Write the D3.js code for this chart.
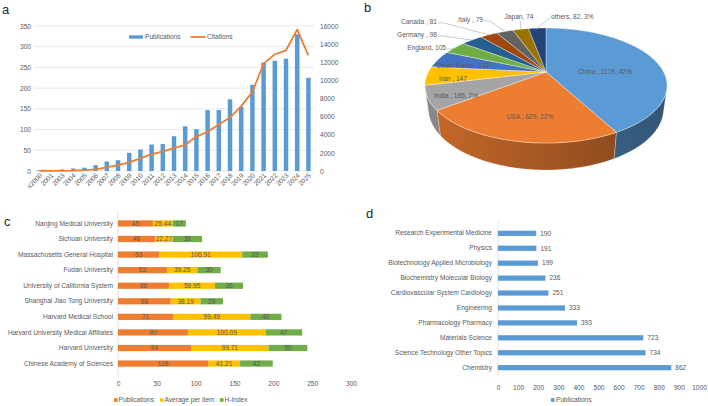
<!DOCTYPE html>
<html>
<head>
<meta charset="utf-8">
<title>Publications overview</title>
<script src="https://cdn.jsdelivr.net/npm/d3@7"></script>
<style>
  html, body { margin: 0; padding: 0; background: #fff; }
  svg { display: block; font-family: "Liberation Sans", Arial, sans-serif; }
  .tick text, .lbl { fill: #595959; }
  .grid line { stroke: #d9d9d9; stroke-width: 0.6; }
  .panel { font-size: 13px; fill: #262626; }
</style>
</head>
<body>
<svg id="chart" width="708" height="406"></svg>
<script>
// a: publications and citations per year
var years = ["≤2000","2001","2003","2004","2005","2006","2007","2008","2009","2010","2011","2012","2013",
             "2014","2015","2016","2017","2018","2019","2020","2021","2022","2023","2024","2025"];
var yearPubs = [2, 1, 4, 6, 8, 14, 23, 26, 44, 52, 64, 65, 84, 108, 101, 147, 147, 173, 155, 208, 262, 266, 271, 330, 225];
var yearCites = [30, 10, 20, 40, 100, 180, 400, 650, 950, 1400, 1870, 2130, 2550, 2860, 3800, 4330, 5140, 5900,
                 7160, 8730, 11850, 12880, 13320, 15600, 12770];
var pubTicks = [0, 50, 100, 150, 200, 250, 300, 350];
var citeTicks = [0, 2000, 4000, 6000, 8000, 10000, 12000, 14000, 16000];

// b: countries
var countries = ["China ", "USA ", "India ", "Iran ", "South Korea ", "England", "Germany ", "Canada ", "Italy ", "Japan", "others"];
var countryPubs = [1178, 629, 186, 147, 137, 105, 98, 81, 79, 74, 82];
var countryPct = [true, true, true, false, false, false, false, false, false, false, true];
var countryColors = ["#5b9bd5", "#ed7d31", "#a5a5a5", "#ffc000", "#4472c4", "#70ad47", "#255e91", "#9e480e", "#636363", "#997300", "#264478"];

// c: institutions
var institutions = ["Nanjing Medical University", "Sichuan University", "Massachusetts General Hospital", "Fudan University",
  "University of California System", "Shanghai Jiao Tong University", "Harvard Medical School",
  "Harvard University Medical Affiliates", "Harvard University", "Chinese Academy of Sciences"];
var instPubs = [45, 48, 53, 63, 66, 68, 71, 90, 94, 116];
var instAvg = [25.44, 22.27, 106.91, 39.25, 58.95, 38.19, 99.49, 100.09, 99.71, 41.21];
var instH = [17, 38, 33, 30, 36, 29, 40, 47, 50, 42];
var instTicks = [0, 50, 100, 150, 200, 250, 300];

// d: research areas
var fields = ["Research Experimental Medicine", "Physics", "Biotechnology Applied Microbiology", "Biochemistry Molecular Biology",
  "Cardiovascular System Cardiology", "Engineering", "Pharmacology Pharmacy", "Materials Science",
  "Science Technology Other Topics", "Chemistry"];
var fieldPubs = [190, 191, 199, 236, 251, 333, 393, 723, 734, 862];
var fieldTicks = [0, 100, 200, 300, 400, 500, 600, 700, 800, 900, 1000];

var blue = "#5b9bd5", orange = "#ed7d31", gold = "#ffc000", green = "#70ad47";
var fs = 6.6;
var plain = d3.format("d");

var svg = d3.select("#chart");
var defs = svg.append("defs");

function plainAxis(g) {
  g.select(".domain").remove();
  g.selectAll(".tick line").remove();
  g.selectAll(".tick text").attr("font-size", fs).attr("font-family", null);
}

// ---------------- a ----------------
var ga = svg.append("g");
ga.append("text").attr("class", "panel").attr("x", 2).attr("y", 14).text("a");

var xa = d3.scaleBand().domain(years).range([34, 314]).paddingInner(0.6).paddingOuter(0.3);
var ya = d3.scaleLinear().domain([0, 350]).range([171, 26]);
var yr = d3.scaleLinear().domain([0, 16000]).range([171, 26]);

ga.append("g").attr("class", "grid").selectAll("line").data(pubTicks).join("line")
  .attr("x1", 34).attr("x2", 314).attr("y1", function(d) { return ya(d); }).attr("y2", function(d) { return ya(d); });

ga.append("g").attr("transform", "translate(34,0)")
  .call(d3.axisLeft(ya).tickValues(pubTicks).tickFormat(plain).tickSize(0).tickPadding(3)).call(plainAxis);
ga.append("g").attr("transform", "translate(314,0)")
  .call(d3.axisRight(yr).tickValues(citeTicks).tickFormat(plain).tickSize(0).tickPadding(6)).call(plainAxis);

ga.selectAll("rect.bar").data(yearPubs).join("rect").attr("class", "bar")
  .attr("x", function(d, i) { return xa(years[i]); })
  .attr("width", xa.bandwidth())
  .attr("y", function(d) { return ya(d); })
  .attr("height", function(d) { return ya(0) - ya(d); })
  .attr("fill", blue);

var citeLine = d3.line()
  .x(function(d, i) { return xa(years[i]) + xa.bandwidth() / 2; })
  .y(function(d) { return yr(d); });
ga.append("path").datum(yearCites).attr("d", citeLine)
  .attr("fill", "none").attr("stroke", orange).attr("stroke-width", 1.8).attr("stroke-linejoin", "round");

ga.selectAll("text.yr").data(years).join("text").attr("class", "yr lbl")
  .attr("font-size", fs).attr("text-anchor", "end")
  .attr("transform", function(d) { return "translate(" + (xa(d) + xa.bandwidth() / 2 + 3) + ",176) rotate(-45)"; })
  .text(function(d) { return d; });

// legend
ga.append("rect").attr("x", 129).attr("y", 35.3).attr("width", 14).attr("height", 3.4).attr("fill", blue);
ga.append("text").attr("class", "lbl").attr("font-size", fs).attr("x", 145).attr("y", 37).attr("dy", "0.35em").text("Publications");
ga.append("line").attr("x1", 190.5).attr("x2", 205.5).attr("y1", 37).attr("y2", 37).attr("stroke", orange).attr("stroke-width", 1.8);
ga.append("text").attr("class", "lbl").attr("font-size", fs).attr("x", 207).attr("y", 37).attr("dy", "0.35em").text("Citations");

// ---------------- b ----------------
var gb = svg.append("g");
gb.append("text").attr("class", "panel").attr("x", 364).attr("y", 12).attr("font-size", 14).text("b");

// perspective projection of a tilted disc
var P = { cx: 546, cy: 72, f: 444.1, D: 3.776, sa: 0.462, ca: 0.887, T: 0.2235 };
function proj(theta, r, h) {
  var X = r * Math.sin(theta), Z = r * Math.cos(theta), Y = h;
  var depth = P.D + Z * P.ca - Y * P.sa;
  return [P.cx + P.f * X / depth, P.cy - P.f * (Z * P.sa + Y * P.ca) / depth];
}
function arcPts(a0, a1, h) {
  var n = Math.max(2, Math.ceil(Math.abs(a1 - a0) / 0.015));
  return d3.range(n + 1).map(function(k) { return proj(a0 + (a1 - a0) * k / n, 1, h); });
}

var pieData = d3.pie().sort(null).value(function(d) { return d; })(countryPubs);
var total = d3.sum(countryPubs);
var silA = Math.acos(-1 / (P.D * P.ca)), silB = 2 * Math.PI - silA;

// side walls
pieData.forEach(function(s, i) {
  var a0 = Math.max(s.startAngle, silA), a1 = Math.min(s.endAngle, silB);
  if (a1 <= a0) return;
  var c = d3.color(countryColors[i]);
  var gid = "side" + i;
  var grad = defs.append("linearGradient").attr("id", gid).attr("gradientUnits", "userSpaceOnUse")
    .attr("x1", 425).attr("x2", 668).attr("y1", 0).attr("y2", 0);
  grad.append("stop").attr("offset", 0).attr("stop-color", c.darker(0.5));
  grad.append("stop").attr("offset", 1).attr("stop-color", c.darker(1.7));
  var pts = arcPts(a0, a1, 0).concat(arcPts(a1, a0, -P.T));
  gb.append("path").attr("d", "M" + pts.join("L") + "Z")
    .attr("fill", "url(#" + gid + ")").attr("stroke", "#fff").attr("stroke-opacity", 0.5).attr("stroke-width", 0.5);
});

// top faces
pieData.forEach(function(s, i) {
  var pts = [proj(0, 0, 0)].concat(arcPts(s.startAngle, s.endAngle, 0));
  gb.append("path").attr("d", "M" + pts.join("L") + "Z")
    .attr("fill", countryColors[i]).attr("stroke", "#fff").attr("stroke-opacity", 0.7).attr("stroke-width", 0.5);
});

// labels: [x, y, anchor, leader]
var pieLabelPos = [
  [605, 72, "middle", 0], [530, 117, "middle", 0], [456, 96, "middle", 0], [453, 79, "middle", 0], [463, 66, "middle", 0],
  [446, 48, "end", 1], [437, 35, "end", 1], [437, 22, "end", 1], [483, 20, "end", 1], [519, 17, "middle", 2], [551, 17, "start", 3]
];
pieData.forEach(function(s, i) {
  var lp = pieLabelPos[i];
  var txt = countries[i] + ", " + countryPubs[i] + (countryPct[i] ? ", " + Math.round(100 * countryPubs[i] / total) + "%" : "");
  gb.append("text").attr("class", "lbl").attr("font-size", fs).attr("x", lp[0]).attr("y", lp[1]).attr("dy", "0.35em")
    .attr("text-anchor", lp[2]).attr("fill", lp[3] ? "#595959" : "#404040").text(txt);
  if (!lp[3]) return;
  var e = proj((s.startAngle + s.endAngle) / 2, 1, 0);
  var pts;
  if (lp[3] === 1) pts = [[lp[0] + 1, lp[1] + 1], [lp[0] + 7, lp[1] + 1], e];
  else if (lp[3] === 2) pts = [[e[0], lp[1] + 4], e];
  else pts = [[lp[0] - 1, lp[1] + 1], e];
  gb.append("path").attr("d", "M" + pts.join("L")).attr("fill", "none").attr("stroke", "#a6a6a6").attr("stroke-width", 0.6);
});

// ---------------- c ----------------
var gc = svg.append("g");
gc.append("text").attr("class", "panel").attr("x", 4).attr("y", 226).attr("font-size", 12).text("c");

var xcS = d3.scaleLinear().domain([0, 300]).range([118, 351]);
var ycS = d3.scaleBand().domain(institutions).range([211, 376]).padding(0.6);
var instRows = institutions.map(function(n, i) { return { name: n, pub: instPubs[i], avg: instAvg[i], h: instH[i] }; });
var keys = ["pub", "avg", "h"], keyColors = [orange, gold, green], keyNames = ["Publications", "Average per item", "H-Index"];
var stacked = d3.stack().keys(keys)(instRows);

gc.append("line").attr("x1", 118).attr("x2", 118).attr("y1", 211).attr("y2", 376).attr("stroke", "#d9d9d9").attr("stroke-width", 0.8);

stacked.forEach(function(layer, k) {
  var g = gc.append("g");
  g.selectAll("rect").data(layer).join("rect")
    .attr("x", function(d) { return xcS(d[0]); })
    .attr("width", function(d) { return xcS(d[1]) - xcS(d[0]); })
    .attr("y", function(d) { return ycS(d.data.name); })
    .attr("height", ycS.bandwidth())
    .attr("fill", keyColors[k]);
  g.selectAll("text").data(layer).join("text").attr("class", "lbl")
    .attr("font-size", fs).attr("text-anchor", "middle").attr("fill", "#404040")
    .attr("x", function(d) { return (xcS(d[0]) + xcS(d[1])) / 2; })
    .attr("y", function(d) { return ycS(d.data.name) + ycS.bandwidth() / 2; })
    .attr("dy", "0.35em")
    .text(function(d) { return d.data[keys[k]]; });
});

gc.append("g").attr("transform", "translate(113,0)")
  .call(d3.axisLeft(ycS).tickSize(0).tickPadding(0)).call(plainAxis);
gc.append("g").attr("transform", "translate(0,377)")
  .call(d3.axisBottom(xcS).tickValues(instTicks).tickFormat(plain).tickSize(0).tickPadding(4)).call(plainAxis);

var legC = gc.selectAll("g.leg").data(keyNames).join("g").attr("class", "leg")
  .attr("transform", function(d, i) { return "translate(" + [114, 160, 220][i] + ",400)"; });
legC.append("rect").attr("x", 0).attr("y", -1.8).attr("width", 3.6).attr("height", 3.6).attr("fill", function(d, i) { return keyColors[i]; });
legC.append("text").attr("class", "lbl").attr("font-size", fs).attr("x", 4.5).attr("dy", "0.35em").text(function(d) { return d; });

// ---------------- d ----------------
var gd = svg.append("g");
gd.append("text").attr("class", "panel").attr("x", 366).attr("y", 218).attr("font-size", 12).text("d");

var xdS = d3.scaleLinear().domain([0, 1000]).range([498, 699]);
var ydS = d3.scaleBand().domain(fields).range([221, 380]).padding(0.65);

gd.append("line").attr("x1", 498).attr("x2", 498).attr("y1", 221).attr("y2", 377).attr("stroke", "#d9d9d9").attr("stroke-width", 0.8);

gd.selectAll("rect").data(fieldPubs).join("rect")
  .attr("x", xdS(0))
  .attr("width", function(d) { return xdS(d) - xdS(0); })
  .attr("y", function(d, i) { return ydS(fields[i]); })
  .attr("height", ydS.bandwidth())
  .attr("fill", blue);
gd.selectAll("text.val").data(fieldPubs).join("text").attr("class", "val lbl")
  .attr("font-size", fs)
  .attr("x", function(d) { return xdS(d) + 4; })
  .attr("y", function(d, i) { return ydS(fields[i]) + ydS.bandwidth() / 2; })
  .attr("dy", "0.35em")
  .text(function(d) { return d; });

gd.append("g").attr("transform", "translate(492,0)")
  .call(d3.axisLeft(ydS).tickSize(0).tickPadding(0)).call(plainAxis);
gd.append("g").attr("transform", "translate(0,383)")
  .call(d3.axisBottom(xdS).tickValues(fieldTicks).tickFormat(plain).tickSize(0).tickPadding(2)).call(plainAxis);

gd.append("rect").attr("x", 551).attr("y", 398.2).attr("width", 3.6).attr("height", 3.6).attr("fill", blue);
gd.append("text").attr("class", "lbl").attr("font-size", fs).attr("x", 556).attr("y", 400).attr("dy", "0.35em").text("Publications");
</script>
</body>
</html>
